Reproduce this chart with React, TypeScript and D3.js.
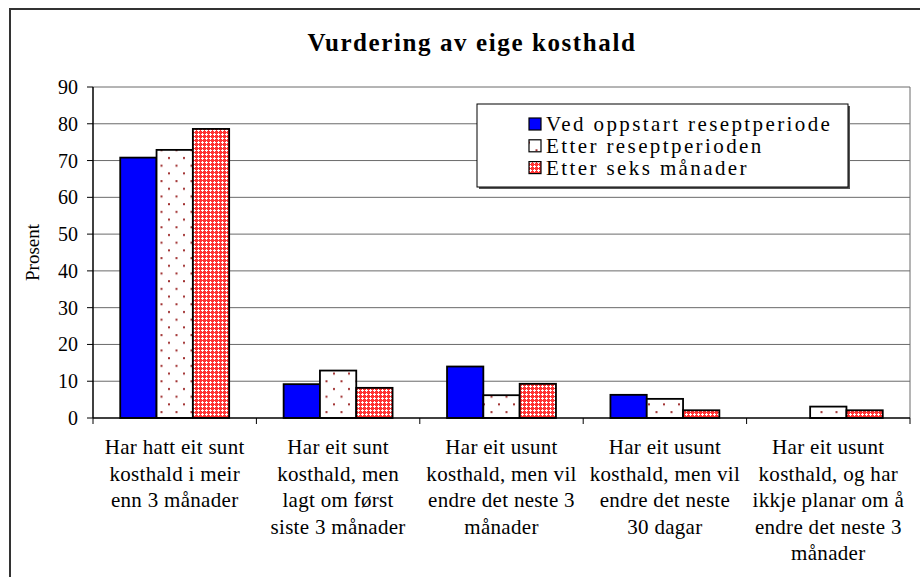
import React, { useEffect, useRef } from 'react';
import * as d3 from 'd3';

// Categories (multi-line labels as shown under the x axis)
const categories: string[][] = [
  ['Har hatt eit sunt', 'kosthald i meir', 'enn 3 månader'],
  ['Har eit sunt', 'kosthald, men', 'lagt om først', 'siste 3 månader'],
  ['Har eit usunt', 'kosthald, men vil', 'endre det neste 3', 'månader'],
  ['Har eit usunt', 'kosthald, men vil', 'endre det neste', '30 dagar'],
  ['Har eit usunt', 'kosthald, og har', 'ikkje planar om å', 'endre det neste 3', 'månader'],
];

const seriesNames = ['Ved oppstart reseptperiode', 'Etter reseptperioden', 'Etter seks månader'];

const vedOppstart = [70.8, 9.2, 14.0, 6.3, 0];
const etterResept = [72.9, 12.9, 6.2, 5.2, 3.1];
const etterSeks = [78.6, 8.2, 9.3, 2.1, 2.1];

const yTicks = [0, 10, 20, 30, 40, 50, 60, 70, 80, 90];

const FONT = "'Liberation Serif', 'Times New Roman', serif";

export default function App() {
  const ref = useRef<SVGSVGElement>(null);

  useEffect(() => {
    if (!ref.current) return;
    const svg = d3.select(ref.current);
    svg.selectAll('*').remove();

    const width = 920;
    const height = 577;
    const plot = { left: 93, right: 910, top: 87, bottom: 418 };

    const values = [vedOppstart, etterResept, etterSeks];
    const fills = ['#0000ff', 'url(#dots)', 'url(#check)'];

    // Patterns
    const defs = svg.append('defs');
    const dots = defs.append('pattern')
      .attr('id', 'dots')
      .attr('patternUnits', 'userSpaceOnUse')
      .attr('width', 15)
      .attr('height', 15.4);
    dots.append('rect').attr('width', 15).attr('height', 15.4).attr('fill', '#ffffff');
    dots.append('rect').attr('x', 3).attr('y', 3).attr('width', 2).attr('height', 2).attr('fill', '#a03030');
    dots.append('rect').attr('x', 10.5).attr('y', 10.7).attr('width', 2).attr('height', 2).attr('fill', '#a03030');

    const check = defs.append('pattern')
      .attr('id', 'check')
      .attr('patternUnits', 'userSpaceOnUse')
      .attr('width', 4)
      .attr('height', 4);
    check.append('rect').attr('width', 4).attr('height', 4).attr('fill', '#ff3333');
    check.append('rect').attr('x', 2).attr('y', 1).attr('width', 1).attr('height', 3).attr('fill', '#ffffff');
    check.append('rect').attr('x', 1).attr('y', 2).attr('width', 3).attr('height', 1).attr('fill', '#ffffff');

    // Outer chart border
    svg.append('rect')
      .attr('x', 10)
      .attr('y', 9)
      .attr('width', width + 20)
      .attr('height', height + 20)
      .attr('fill', '#ffffff')
      .attr('stroke', '#333333')
      .attr('stroke-width', 2);

    // Scales
    const x = d3.scaleBand<number>()
      .domain(d3.range(categories.length))
      .range([plot.left, plot.right])
      .paddingInner(0)
      .paddingOuter(0);

    const xInner = d3.scaleBand<number>()
      .domain(d3.range(seriesNames.length))
      .range([0, x.bandwidth()])
      .paddingInner(0)
      .paddingOuter(0.75);

    const y = d3.scaleLinear().domain([0, 90]).range([plot.bottom, plot.top]);

    // Gridlines
    svg.append('g')
      .selectAll('line')
      .data(yTicks.filter(d => d > 0))
      .enter()
      .append('line')
      .attr('x1', plot.left)
      .attr('x2', plot.right)
      .attr('y1', d => y(d))
      .attr('y2', d => y(d))
      .attr('stroke', '#6a6a6a')
      .attr('stroke-width', 1);

    // Plot area right border
    svg.append('line')
      .attr('x1', plot.right)
      .attr('x2', plot.right)
      .attr('y1', plot.top)
      .attr('y2', plot.bottom)
      .attr('stroke', '#6a6a6a')
      .attr('stroke-width', 1);

    // Bars
    values.forEach((series, s) => {
      series.forEach((v, i) => {
        if (v <= 0) return;
        svg.append('rect')
          .attr('x', (x(i) as number) + (xInner(s) as number))
          .attr('y', y(v))
          .attr('width', xInner.bandwidth())
          .attr('height', y(0) - y(v))
          .attr('fill', fills[s])
          .attr('stroke', '#000000')
          .attr('stroke-width', 1.8);
      });
    });

    // Y axis
    const yAxis = svg.append('g');
    yAxis.append('line')
      .attr('x1', plot.left)
      .attr('x2', plot.left)
      .attr('y1', plot.top)
      .attr('y2', plot.bottom)
      .attr('stroke', '#000')
      .attr('stroke-width', 1.5);
    yTicks.forEach(t => {
      yAxis.append('line')
        .attr('x1', plot.left - 6)
        .attr('x2', plot.left)
        .attr('y1', y(t))
        .attr('y2', y(t))
        .attr('stroke', '#000');
      yAxis.append('text')
        .attr('x', 78)
        .attr('y', y(t))
        .attr('dy', '0.35em')
        .attr('text-anchor', 'end')
        .style('font-family', FONT)
        .style('font-size', '20px')
        .text(t);
    });

    // X axis
    const xAxis = svg.append('g');
    xAxis.append('line')
      .attr('x1', plot.left)
      .attr('x2', plot.right)
      .attr('y1', plot.bottom)
      .attr('y2', plot.bottom)
      .attr('stroke', '#000')
      .attr('stroke-width', 1.5);
    d3.range(categories.length + 1).forEach(i => {
      const xv = i < categories.length ? (x(i) as number) : plot.right;
      xAxis.append('line')
        .attr('x1', xv)
        .attr('x2', xv)
        .attr('y1', plot.bottom)
        .attr('y2', plot.bottom + 6)
        .attr('stroke', '#000');
    });
    categories.forEach((lines, i) => {
      const cx = (x(i) as number) + x.bandwidth() / 2;
      const t = xAxis.append('text')
        .attr('text-anchor', 'middle')
        .style('font-family', FONT)
        .style('font-size', '21px')
        .style('letter-spacing', '0.3px');
      lines.forEach((line, j) => {
        t.append('tspan')
          .attr('x', cx)
          .attr('y', 454 + j * 26.6)
          .text(line);
      });
    });

    // Y axis title
    svg.append('text')
      .attr('transform', `translate(39, ${(plot.top + plot.bottom) / 2}) rotate(-90)`)
      .attr('text-anchor', 'middle')
      .style('font-family', FONT)
      .style('font-size', '19px')
      .text('Prosent');

    // Title
    svg.append('text')
      .attr('x', 472)
      .attr('y', 51)
      .attr('text-anchor', 'middle')
      .style('font-family', FONT)
      .style('font-size', '25px')
      .style('font-weight', 'bold')
      .style('letter-spacing', '1.6px')
      .text('Vurdering av eige kosthald');

    // Legend
    const legend = svg.append('g');
    const lg = { x: 477, y: 104, w: 371, h: 83 };
    legend.append('rect')
      .attr('x', lg.x + 2)
      .attr('y', lg.y + 2)
      .attr('width', lg.w)
      .attr('height', lg.h)
      .attr('fill', '#555555');
    legend.append('rect')
      .attr('x', lg.x)
      .attr('y', lg.y)
      .attr('width', lg.w)
      .attr('height', lg.h)
      .attr('fill', '#ffffff')
      .attr('stroke', '#000000')
      .attr('stroke-width', 1);

    seriesNames.forEach((name, i) => {
      const rowY = 118 + i * 21.8;
      legend.append('rect')
        .attr('x', 529)
        .attr('y', rowY)
        .attr('width', 12)
        .attr('height', 12)
        .attr('fill', fills[i])
        .attr('stroke', '#000')
        .attr('stroke-width', 1.2);
      legend.append('text')
        .attr('x', 546)
        .attr('y', rowY + 13)
        .style('font-family', FONT)
        .style('font-size', '21px')
        .style('letter-spacing', '2.4px')
        .text(name);
    });
  }, []);

  return (
    <svg
      ref={ref}
      width={920}
      height={577}
      viewBox="0 0 920 577"
      style={{ position: 'absolute', left: 0, top: 0, background: '#ffffff' }}
    />
  );
}
